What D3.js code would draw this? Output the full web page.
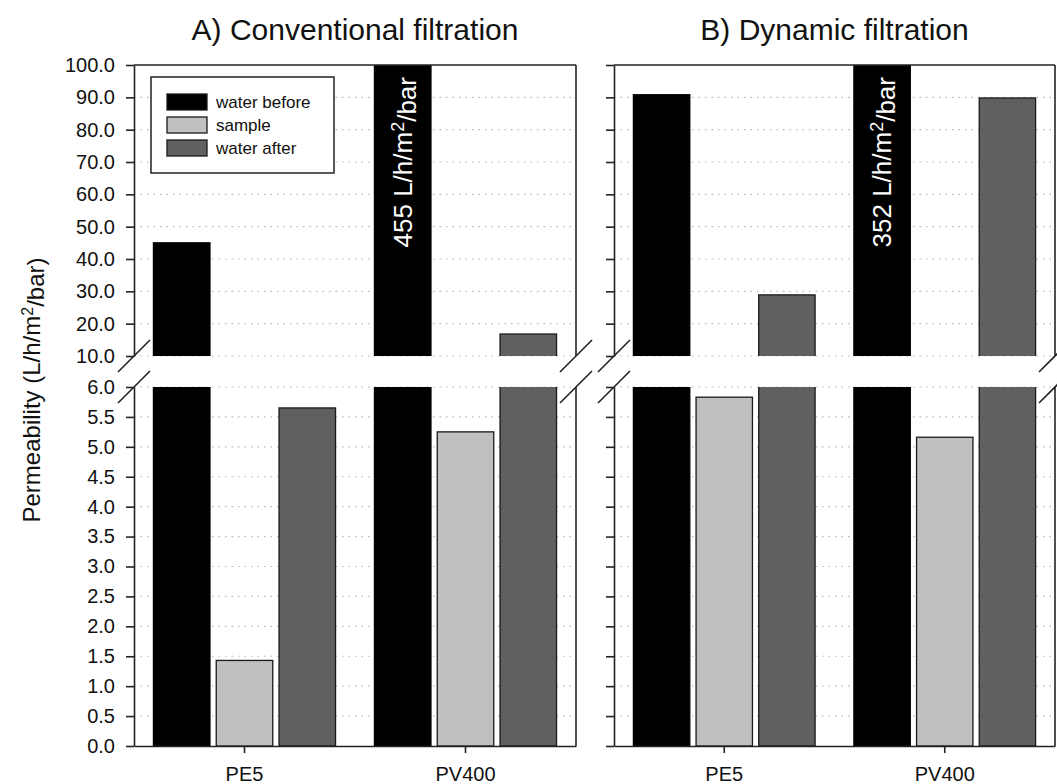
<!DOCTYPE html>
<html>
<head>
<meta charset="utf-8">
<script src="https://cdn.jsdelivr.net/npm/d3@7"></script>
<style>
  body { margin:0; background:#fff; }
  svg { display:block; font-family:"Liberation Sans", Arial, sans-serif; }
</style>
</head>
<body>
<div id="chart"></div>
<script>
// Permeability before / during / after filtration, broken y axis (0-6 and 10-100)
const categories = ['PE5', 'PV400'];
const seriesNames = ['water before', 'sample', 'water after'];
const seriesColors = ['#000000', '#c0c0c0', '#606060'];

// A) Conventional filtration
const convWaterBefore = [45.0, 455];
const convSample      = [1.43, 5.25];
const convWaterAfter  = [5.65, 16.8];
// B) Dynamic filtration
const dynWaterBefore  = [90.8, 352];
const dynSample       = [5.83, 5.16];
const dynWaterAfter   = [28.9, 89.8];

const panelTitles = ['A) Conventional filtration', 'B) Dynamic filtration'];
const overflowValues = ['455', '352']; // PV400 water before, off the top

const upperTicks = [10, 20, 30, 40, 50, 60, 70, 80, 90, 100];
const lowerTicks = [0, 0.5, 1, 1.5, 2, 2.5, 3, 3.5, 4, 4.5, 5, 5.5, 6];

(function(){
  const W = 1057, H = 784;
  const top = 65, bottom = 746;
  const brkHi = 356, brkLo = 387;   // ends of the two y segments
  const panels = [
    { x0: 134, x1: 576, title: panelTitles[0], labels: true,
      series: [convWaterBefore, convSample, convWaterAfter], note: overflowValues[0] },
    { x0: 614, x1: 1055, title: panelTitles[1], labels: false,
      series: [dynWaterBefore, dynSample, dynWaterAfter], note: overflowValues[1] }
  ];
  const axisColor = '#222';

  const svg = d3.select('#chart').append('svg').attr('width', W).attr('height', H);

  const yUp = d3.scaleLinear().domain([10, 100]).range([brkHi, top]);
  const yLo = d3.scaleLinear().domain([0, 6]).range([bottom, brkLo]);
  const fmt = d3.format('.1f');

  // clip regions for the two segments
  const defs = svg.append('defs');
  defs.append('clipPath').attr('id', 'clipUp').append('rect')
    .attr('x', 0).attr('y', top).attr('width', W).attr('height', brkHi - top);
  defs.append('clipPath').attr('id', 'clipLo').append('rect')
    .attr('x', 0).attr('y', brkLo).attr('width', W).attr('height', bottom - brkLo);

  panels.forEach((p, pi) => {
    const g = svg.append('g');
    const x = d3.scaleBand().domain(categories).range([p.x0, p.x1])
      .paddingInner(0.176).paddingOuter(0.088);
    const xs = d3.scaleBand().domain(seriesNames).range([0, x.bandwidth()])
      .paddingInner(0.1).paddingOuter(0);

    // dotted grid
    const grid = g.append('g').attr('stroke', '#b8b8b8').attr('stroke-width', 1.2)
      .attr('stroke-dasharray', '1.5,5');
    upperTicks.filter(t => t < 100).forEach(t => {
      grid.append('line').attr('x1', p.x0).attr('x2', p.x1).attr('y1', yUp(t)).attr('y2', yUp(t));
    });
    lowerTicks.filter(t => t > 0).forEach(t => {
      grid.append('line').attr('x1', p.x0).attr('x2', p.x1).attr('y1', yLo(t)).attr('y2', yLo(t));
    });

    // bars, split across the break
    const bars = [];
    p.series.forEach((vals, si) => {
      vals.forEach((v, ci) => bars.push({ cat: categories[ci], s: seriesNames[si], si, v }));
    });
    const up = g.append('g').attr('clip-path', 'url(#clipUp)');
    const lo = g.append('g').attr('clip-path', 'url(#clipLo)');
    bars.forEach(d => {
      const bx = x(d.cat) + xs(d.s), bw = xs.bandwidth();
      const stroke = d.si === 0 ? '#000' : '#1a1a1a';
      if (d.v > 10) {
        const yt = yUp(Math.min(d.v, 100)) - (d.v > 100 ? 5 : 0);
        up.append('rect').attr('x', bx).attr('width', bw)
          .attr('y', yt).attr('height', brkHi + 6 - yt)
          .attr('fill', seriesColors[d.si]).attr('stroke', stroke).attr('stroke-width', 1.3);
      }
      const ylt = d.v > 6 ? brkLo - 6 : yLo(d.v);
      lo.append('rect').attr('x', bx).attr('width', bw)
        .attr('y', ylt).attr('height', bottom - ylt)
        .attr('fill', seriesColors[d.si]).attr('stroke', stroke).attr('stroke-width', 1.3);
    });

    // value note inside the off-scale PV400 bar
    const nb = x('PV400') + xs('water before') + xs.bandwidth() / 2;
    const note = g.append('text')
      .attr('transform', `translate(${nb},77) rotate(-90)`)
      .attr('text-anchor', 'end').attr('dy', '0.36em')
      .attr('fill', '#fff').style('font-size', '26px');
    note.append('tspan').text(p.note + ' L/h/m');
    note.append('tspan').attr('dy', '-0.45em').style('font-size', '18px').text('2');
    note.append('tspan').attr('dy', '0.45em').text('/bar');

    // y axes (labels only on the left panel)
    const axUp = d3.axisLeft(yUp).tickValues(upperTicks).tickSize(8).tickPadding(11)
      .tickSizeOuter(0).tickFormat(p.labels ? fmt : '');
    const axLo = d3.axisLeft(yLo).tickValues(lowerTicks).tickSize(8).tickPadding(11)
      .tickSizeOuter(0).tickFormat(p.labels ? fmt : '');
    [axUp, axLo].forEach(ax => {
      const a = g.append('g').attr('transform', `translate(${p.x0},0)`).call(ax);
      a.selectAll('path,line').attr('stroke', axisColor).attr('stroke-width', 1.6);
      a.selectAll('text').attr('fill', '#111').style('font-size', '20px')
        .style('font-family', '"Liberation Sans", Arial, sans-serif');
    });

    // x axis
    const axX = d3.axisBottom(x).tickSize(7).tickPadding(14).tickSizeOuter(0);
    const ax = g.append('g').attr('transform', `translate(0,${bottom})`).call(axX);
    ax.selectAll('path,line').attr('stroke', axisColor).attr('stroke-width', 1.6);
    ax.selectAll('text').attr('fill', '#111').style('font-size', '20px')
      .style('font-family', '"Liberation Sans", Arial, sans-serif');

    // frame: top and right edge (both segments)
    const frame = g.append('g').attr('stroke', axisColor).attr('stroke-width', 1.6).attr('fill', 'none');
    frame.append('line').attr('x1', p.x0).attr('x2', p.x1).attr('y1', top).attr('y2', top);
    frame.append('line').attr('x1', p.x1).attr('x2', p.x1).attr('y1', top).attr('y2', brkHi);
    frame.append('line').attr('x1', p.x1).attr('x2', p.x1).attr('y1', brkLo).attr('y2', bottom);

    // break marks
    [p.x0, p.x1].forEach(bx => {
      [brkHi, brkLo].forEach(by => {
        frame.append('line').attr('x1', bx - 16).attr('y1', by + 16)
          .attr('x2', bx + 16).attr('y2', by - 16);
      });
    });

    // panel title
    svg.append('text').attr('x', (p.x0 + p.x1) / 2).attr('y', 40)
      .attr('text-anchor', 'middle').attr('fill', '#111')
      .style('font-size', '30px').text(p.title);
  });

  // y label
  const yl = svg.append('text')
    .attr('transform', `translate(40,390) rotate(-90)`)
    .attr('text-anchor', 'middle').attr('fill', '#111').style('font-size', '24px');
  yl.append('tspan').text('Permeability (L/h/m');
  yl.append('tspan').attr('dy', '-0.45em').style('font-size', '16px').text('2');
  yl.append('tspan').attr('dy', '0.45em').text('/bar)');

  // legend
  const lg = svg.append('g').attr('transform', 'translate(151,77)');
  lg.append('rect').attr('width', 183).attr('height', 96)
    .attr('fill', '#fff').attr('stroke', axisColor).attr('stroke-width', 1.5);
  seriesNames.forEach((s, i) => {
    const row = lg.append('g').attr('transform', `translate(16,${17 + i * 23})`);
    row.append('rect').attr('width', 40).attr('height', 16)
      .attr('fill', seriesColors[i]).attr('stroke', '#1a1a1a').attr('stroke-width', 1.3);
    row.append('text').attr('x', 49).attr('y', 8).attr('dy', '0.35em')
      .attr('fill', '#111').style('font-size', '17px').text(s);
  });
})();
</script>
</body>
</html>
